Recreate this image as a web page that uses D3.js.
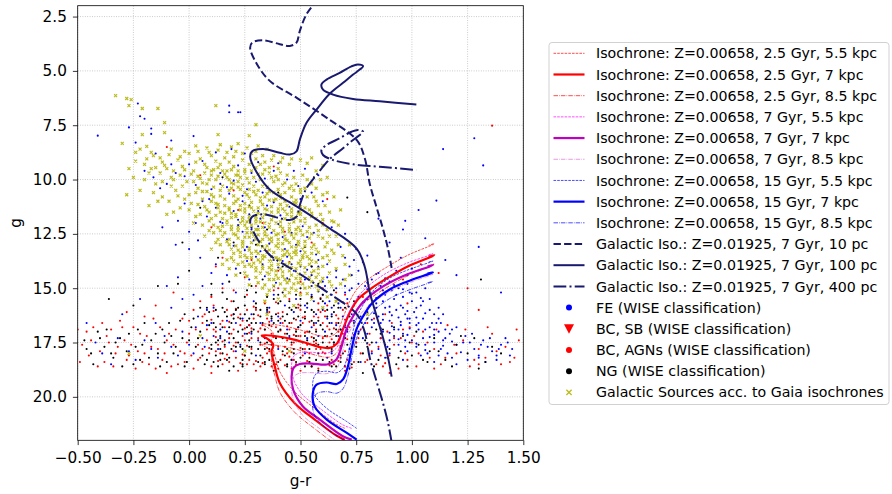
<!DOCTYPE html>
<html lang="en">
<head>
<meta charset="UTF-8">
<title>g vs g-r with isochrones</title>
<script src="https://cdn.jsdelivr.net/npm/d3@7"></script>
<style>
  html, body { margin: 0; padding: 0; background: #fff; }
  svg { display: block; font-family: "DejaVu Sans", sans-serif; }
</style>
</head>
<body>
<div id="chart"></div>
<script>
// ---------- data ----------
const xTicks = [-0.5, -0.25, 0, 0.25, 0.5, 0.75, 1, 1.25, 1.5];
const yTicks = [2.5, 5, 7.5, 10, 12.5, 15, 17.5, 20];

// Z=0.00658 isochrones at 7 kpc, [g-r, g]
const iso25 = [[0.699,21.97],[0.661,21.78],[0.564,21.05],[0.474,20.29],[0.407,19.36],[0.385,18.61],[0.370,17.92],[0.378,17.6],[0.352,17.33],[0.326,17.18],[0.385,17.2],[0.452,17.32],[0.519,17.5],[0.578,17.69],[0.631,17.75],[0.663,17.55],[0.690,16.9],[0.721,16.12],[0.757,15.52],[0.811,15.06],[0.900,14.47],[0.990,13.96],[1.089,13.54],[1.10,13.47],[1.075,13.55]];
const iso7 = [[0.730,21.97],[0.690,21.81],[0.587,21.05],[0.510,20.43],[0.467,19.67],[0.460,19.07],[0.470,18.65],[0.497,18.49],[0.551,18.47],[0.618,18.51],[0.661,18.28],[0.684,17.69],[0.706,16.9],[0.736,16.29],[0.779,15.66],[0.869,14.93],[0.977,14.37],[1.080,14.0],[1.095,13.93],[1.07,14.0]];
const iso15 = [[0.752,21.97],[0.708,21.66],[0.618,21.05],[0.564,20.45],[0.555,19.85],[0.572,19.44],[0.617,19.34],[0.663,19.41],[0.691,19.2],[0.713,18.59],[0.729,17.82],[0.751,16.9],[0.781,16.29],[0.824,15.66],[0.900,15.06],[0.977,14.7],[1.080,14.33],[1.095,14.27],[1.07,14.33]];
// magnitude offset of the 5.5 / 7 / 8.5 kpc versions relative to 7 kpc
const isoShift = [-0.52, 0, 0.42];

// Galactic isochrone Z=0.01925, 7 Gyr at 10 pc, [g-r, g]
const galIso = [[0.909,14.07],[0.892,13.15],[0.869,12.23],[0.842,11.3],[0.811,10.2],[0.788,9.0],[0.752,8.18],[0.618,7.16],[0.483,6.24],[0.362,5.46],[0.304,4.68],[0.274,3.95],[0.283,3.7],[0.332,3.59],[0.407,3.77],[0.452,3.85],[0.482,3.7],[0.497,3.16],[0.527,2.39],[0.572,1.78],[0.631,1.05],[0.691,0.55],[0.736,0.17],[0.766,-0.06],[0.781,-0.21],[0.758,-0.29],[0.729,-0.21],[0.676,0.09],[0.617,0.4],[0.594,0.63],[0.601,0.86],[0.646,1.09],[0.736,1.29],[0.856,1.4],[1.020,1.55]];
// distance moduli for 10 pc, 100 pc, 400 pc
const galDistMod = [0, 5, 8.01];

const legendLabels = [
  "Isochrone: Z=0.00658, 2.5 Gyr, 5.5 kpc",
  "Isochrone: Z=0.00658, 2.5 Gyr, 7 kpc",
  "Isochrone: Z=0.00658, 2.5 Gyr, 8.5 kpc",
  "Isochrone: Z=0.00658, 7 Gyr, 5.5 kpc",
  "Isochrone: Z=0.00658, 7 Gyr, 7 kpc",
  "Isochrone: Z=0.00658, 7 Gyr, 8.5 kpc",
  "Isochrone: Z=0.00658, 15 Gyr, 5.5 kpc",
  "Isochrone: Z=0.00658, 15 Gyr, 7 kpc",
  "Isochrone: Z=0.00658, 15 Gyr, 8.5 kpc",
  "Galactic Iso.: Z=0.01925, 7 Gyr, 10 pc",
  "Galactic Iso.: Z=0.01925, 7 Gyr, 100 pc",
  "Galactic Iso.: Z=0.01925, 7 Gyr, 400 pc",
  "FE (WISE classification)",
  "BC, SB (WISE classification)",
  "BC, AGNs (WISE classification)",
  "NG (WISE classification)",
  "Galactic Sources acc. to Gaia isochrones"
];

// scatter samples, flat [g-r, g, g-r, g, ...]
const fePts = [-0.41,7.98,-0.23,6.5,-0.22,7.09,-0.2,7.2,-0.17,7.65,-0.17,7.9,0.18,6.6,0.22,6.9,0.18,6.9,0.23,6.9,1.14,8.6,1.28,8.1,1.32,9.35,1.11,10.97,1.03,11.4,0.96,12.3,0.9,12.9,0.85,11.8,0.8,13.5,1.3,13.1,1.4,15.2,-0.15,8.8,-0.2,9.6,-0.08,9.3,-0.13,10.4,-0.02,9.85,0.03,10.25,-0.05,11.9,-0.12,12.2,0.06,11.0,0.1,10.45,0.14,9.7,0.22,9.35,0.28,9.7,0.34,9.95,0.4,9.25,0.47,9.6,0.52,9.5,0.58,9.8,0.26,10.45,0.33,10.6,0.18,10.65,0.38,11.05,0.45,11.25,0.2,11.45,0.27,11.6,0.32,11.8,0.14,11.95,0.4,12.05,0.24,12.4,0.46,12.45,0.53,12.65,0.29,12.8,0.36,12.95,0.2,13.05,0.43,13.2,0.5,13.3,0.57,13.45,0.26,13.75,0.33,13.9,0.4,14.05,0.47,14.2,0.55,14.4,0.6,14.7,0.66,14.2,0.7,13.6,0.73,15.0,0.63,15.6,0.55,15.3,0.48,15.5,0.38,15.3,0.29,15.6,0.21,15.2,0.15,14.8,0.1,14.3,0.05,13.6,-0.05,14.5,-0.03,15.5,0.08,16.0,-0.1,14.9,-0.22,15.5,-0.3,16.2,0.0,13.2,
0.82,14.6,0.86,14.9,0.9,14.7,0.94,15.0,0.98,14.8,1.02,15.2,0.88,15.3,0.92,15.5,0.96,15.4,1.0,15.6,1.04,15.8,1.08,15.5,0.84,15.7,0.88,15.9,0.93,16.0,0.97,16.2,1.01,16.1,1.05,16.4,1.1,16.2,0.8,16.1,0.85,16.3,0.9,16.5,0.95,16.7,0.99,16.6,1.03,16.9,1.08,16.8,1.12,17.0,0.82,16.8,0.87,17.0,0.92,17.2,0.96,17.1,1.0,17.4,1.05,17.3,1.1,17.5,1.15,17.3,0.78,17.3,0.84,17.5,0.89,17.7,0.94,17.6,0.98,17.9,1.02,17.7,1.07,18.0,0.76,15.4,0.79,14.9,0.83,15.2,0.91,16.25,0.86,16.6,1.13,16.6,1.18,16.9,1.2,17.6,1.24,17.2,1.28,17.8,1.32,17.4,1.36,17.9,1.4,17.6,1.44,18.1,1.25,18.3,1.33,18.4,1.18,18.2,1.1,18.4,0.96,18.3,0.88,18.2,0.82,18.0,0.74,16.5,0.72,17.8,0.68,16.9,0.65,17.5,0.62,16.4,0.58,17.2,0.55,16.8,0.52,18.0,0.48,17.4,0.44,16.9,0.4,17.8,0.37,16.5,0.34,17.3,0.3,18.1,0.27,16.7,0.23,17.6,0.2,16.2,0.17,17.0,0.13,17.8,0.1,16.6,0.06,17.3,0.02,18.0,-0.03,17.0,-0.08,17.7,-0.14,18.2,-0.2,17.4,-0.27,17.9,-0.35,18.5,-0.42,17.5,-0.46,16.6,0.98,14.4,1.06,15.0,1.12,15.9,0.95,13.6,1.0,14.1,0.64,15.9,0.69,16.3,0.71,15.5,0.66,16.7,0.6,16.0,0.77,18.4,0.7,18.6,0.62,18.2,0.56,18.5,0.46,18.3,
0.91,15.1,0.95,15.8,0.99,16.4,1.03,16.6,0.87,16.2,0.92,16.9,1.06,17.6,1.13,17.8,0.97,17.4,0.81,15.8,1.2,18.5,1.3,18.1,1.38,18.3,0.85,14.3,0.93,14.2,
0.76,14.8,0.8,15.05,0.84,15.45,0.87,15.6,0.9,15.85,0.94,16.35,0.98,16.05,1.02,16.35,1.06,16.15,1.09,16.6,1.12,16.4,1.15,16.9,1.04,15.45,1.0,15.25,0.96,15.05,0.92,14.85,0.88,14.55,0.84,14.35,0.8,14.75,0.78,15.65,0.82,16.45,0.86,16.85,0.9,17.05,0.94,17.35,0.98,17.15,1.02,17.55,1.06,17.85,1.1,17.15,1.14,17.65,1.18,17.45,1.22,17.95,1.26,17.5,1.3,18.2,1.34,17.7,1.38,18.1,1.42,17.3,1.45,17.8,1.16,18.0,1.08,17.25,0.99,16.85,0.95,16.55,0.91,16.75,0.87,16.45,0.83,16.15,0.79,16.6,0.76,17.0,0.73,16.2,0.7,16.8,0.67,17.2,0.64,16.6,0.61,15.7,0.57,16.2,0.53,15.9,0.5,16.5,0.47,16.1,0.43,15.8,0.4,16.3,0.36,15.9,0.32,16.6,0.28,16.2,0.25,17.1,0.21,16.6,0.18,17.5,0.14,16.9,0.11,17.2,0.07,17.7,0.03,16.8,0.0,17.6,-0.05,18.1,-0.11,17.2,-0.17,17.8,-0.24,18.3,-0.32,17.3,-0.39,18.0,0.58,14.0,0.62,14.5,0.66,15.0,0.69,14.6,0.72,14.0,0.75,13.2,0.68,13.1,0.64,12.2,0.7,12.5,0.6,11.0,0.55,10.6,0.49,10.3,0.44,10.0,0.38,9.6,0.31,9.2,0.25,8.8,0.19,8.6,0.12,8.75,0.06,9.15,0.0,9.3,-0.06,9.7,-0.1,10.2,-0.16,9.9,-0.24,8.3,-0.27,7.6,-0.08,8.2,0.02,8.0,0.09,10.9,0.14,10.2,0.2,10.05,0.24,11.0,0.31,11.45,0.35,11.2,0.41,11.65,0.47,11.8,0.51,12.15,0.56,12.45,0.37,12.45,0.31,12.15,0.22,11.85,0.17,12.75,0.25,13.25,0.3,13.55,0.36,13.45,0.42,13.75,0.46,13.9,0.53,14.15,0.44,14.55,0.39,14.75,0.34,14.45,0.27,14.6,0.21,14.1,0.17,14.4,0.12,13.9,0.06,14.9,0.02,15.3,-0.08,15.9,-0.15,16.6,0.0,12.4,-0.06,13.0,0.04,12.8,1.06,12.7,1.15,13.7,1.2,14.4,0.97,11.9,
0.52,14.6,0.55,14.9,0.58,15.15,0.61,14.9,0.64,15.3,0.67,15.7,0.7,15.2,0.73,14.4,0.76,14.2,0.78,13.8,0.74,13.7,0.7,14.9,0.66,14.5,0.62,13.9,0.58,13.7,0.55,14.0,0.52,15.8,0.56,15.6,0.6,15.3,0.64,16.2,0.68,15.9,0.72,15.1,0.77,16.3,0.8,15.5,0.84,15.9,0.87,15.1,0.9,16.1,0.93,15.3,0.96,15.9,0.99,15.2,1.02,15.9,1.05,15.6,1.08,16.0,1.11,16.6,1.14,16.2,1.17,17.1,1.2,16.8,1.23,17.5,1.27,17.1,1.31,17.6,1.35,17.3,1.39,17.8,1.43,17.5,0.86,17.3,0.9,17.4,0.94,16.9,0.98,16.4,1.02,16.7,1.06,16.9,1.1,16.9,1.14,17.4,0.83,16.6,0.8,17.1,0.85,17.8,0.9,18.0,0.97,17.7,1.04,18.1,1.12,18.1,0.75,17.5,0.71,17.0,0.68,17.7,0.64,18.0,0.61,17.0,0.57,16.6,0.53,17.3,0.49,16.8,0.45,17.2,0.41,16.6,0.38,17.2,0.35,16.1,0.31,17.4,0.28,17.1,0.24,16.4,0.21,17.9,0.17,16.5,0.14,17.3,0.11,15.9,0.08,16.7,0.04,16.3,0.15,12.0,0.22,12.1,0.28,12.3,0.34,12.2,0.42,12.65,0.48,13.0,0.26,13.1,0.32,13.3,0.38,13.7,0.44,13.55,0.5,14.0,0.3,10.1,0.35,10.4,0.42,10.85,0.5,10.9,0.24,10.75,0.17,10.35,0.12,11.3,0.08,11.7,-0.02,11.1,0.03,12.0];
const sbPts = [];
const agnPts = [-0.5,16.9,-0.48,17.6,-0.45,18.1,-0.43,16.8,-0.4,17.9,-0.38,18.4,-0.37,17.2,-0.34,18.6,-0.32,17.7,-0.3,16.8,-0.28,18.3,-0.26,17.6,-0.24,18.7,-0.22,17.1,-0.2,18.0,-0.18,18.5,-0.16,16.4,-0.14,17.8,-0.12,18.3,-0.1,17.4,-0.08,18.6,-0.06,16.9,-0.04,17.9,-0.02,18.4,0.0,17.1,0.0,16.5,0.02,18.7,0.04,17.6,
0.05,18.2,0.07,16.2,0.08,17.4,0.1,18.6,0.11,15.8,0.12,17.0,0.14,18.0,0.15,16.5,0.16,17.7,0.18,18.4,0.19,15.6,0.2,16.9,0.21,17.5,0.22,18.8,0.23,16.2,0.24,17.2,0.25,18.1,0.26,15.3,0.27,16.7,0.28,17.8,0.29,18.5,0.3,16.0,0.31,17.0,0.32,17.6,0.33,18.2,0.34,15.7,0.35,16.4,0.36,17.4,0.37,18.6,0.38,15.1,0.39,16.8,0.4,17.7,0.41,18.3,0.42,16.1,0.43,17.1,0.44,18.0,0.45,15.5,0.46,16.6,0.47,17.5,0.48,18.5,0.49,15.9,0.5,17.2,0.51,18.1,0.52,16.3,0.53,17.0,0.54,18.4,0.55,15.4,0.56,16.7,0.57,17.8,0.58,18.7,0.59,16.1,0.6,17.3,0.61,18.0,0.62,15.8,0.63,16.9,0.64,18.3,0.65,17.6,0.66,15.2,0.67,16.4,0.68,18.1,0.69,17.1,0.7,18.6,0.71,15.7,0.72,16.8,0.73,17.7,0.74,18.4,0.75,16.1,0.76,17.3,0.77,18.0,0.78,15.4,
0.8,16.6,0.82,17.9,0.84,18.5,0.86,17.3,0.88,16.2,0.9,18.1,0.92,17.6,0.94,18.7,0.96,16.9,0.98,18.3,1.0,17.5,1.02,18.6,1.05,17.0,1.08,18.2,1.1,17.8,1.13,18.5,1.16,16.7,1.2,18.0,1.23,17.4,1.26,18.6,1.3,17.8,1.33,18.2,1.36,17.1,1.4,18.5,1.42,17.7,1.48,17.4,
1.36,7.52,0.89,14.8,0.96,14.6,1.04,13.9,1.12,14.3,1.25,15.0,1.3,16.0,0.98,15.7,0.1,12.2,0.22,11.4,0.15,13.6,-0.15,15.8,-0.28,16.1,-0.35,16.9,0.35,13.3,0.5,14.7,0.43,12.4,0.6,12.0,
0.12,17.9,0.2,17.9,0.28,17.3,0.36,17.9,0.44,17.4,0.52,17.8,0.6,16.6,0.32,18.6,0.4,18.7,0.48,16.9,0.56,16.3,0.24,16.5,0.18,17.3,0.08,16.9,-0.02,18.0,0.06,17.8,0.26,18.5,0.34,16.9,0.42,16.6,0.5,16.0,0.58,15.7,0.46,18.7,0.54,18.0,0.62,17.2,0.7,17.9,
0.02,16.0,0.04,18.3,0.06,16.6,0.09,18.0,0.11,16.9,0.13,17.6,0.15,18.5,0.17,16.0,0.19,17.1,0.21,18.2,0.23,16.7,0.25,17.4,0.27,18.3,0.29,16.4,0.31,17.3,0.33,16.7,0.35,18.0,0.37,17.1,0.39,18.5,0.41,16.4,0.43,17.7,0.45,16.9,0.47,18.3,0.49,17.2,0.51,16.6,0.53,17.6,0.55,18.6,0.57,16.9,0.59,17.8,0.61,16.3,0.63,17.5,0.65,18.5,0.67,17.0,0.69,16.0,0.71,18.3,0.73,16.5,0.75,17.5,0.77,16.9,0.79,18.4,0.81,17.1,0.83,16.4,0.85,17.7,0.87,18.6,0.89,17.0,0.91,16.6,0.95,17.3,0.99,16.8,1.03,18.0,1.07,17.5,1.11,16.9,1.15,18.2,1.19,17.6,1.24,16.9,1.28,18.3,1.34,16.8,1.38,17.9,1.44,18.4,1.47,16.9,-0.49,18.4,-0.46,17.0,-0.44,17.4,-0.41,18.6,-0.39,16.6,-0.36,17.5,-0.33,18.0,-0.31,16.5,-0.29,17.4,-0.27,18.1,-0.25,16.8,-0.23,17.9,-0.21,18.4,-0.19,17.2,-0.17,17.7,-0.15,18.7,-0.13,16.8,-0.11,18.0,-0.09,17.1,-0.07,17.6,-0.05,18.5,-0.03,16.4,-0.01,17.5,0.01,18.1,0.03,16.9,0.1,15.4,0.2,15.1,0.3,14.9,0.4,15.0,0.5,15.2,0.6,15.0,0.7,15.3,0.25,14.5,0.15,15.0,0.05,15.6,-0.07,15.2,-0.2,16.3,0.45,13.8,0.55,12.9,0.33,12.0,0.2,10.5,0.05,9.8,-0.1,8.5,0.38,9.4,0.62,10.9,0.4,14.2,0.28,13.7,0.12,14.0,0.58,16.0,0.66,16.6,0.74,15.8,0.46,17.6,0.36,16.1,0.26,16.0,0.16,16.8,0.06,16.3,0.5,18.8,0.3,18.8,0.1,18.9,-0.1,18.9,0.7,18.8,0.9,18.9,1.1,18.7,1.3,18.5,1.46,18.2,
0.1,16.45,0.12,17.25,0.14,16.65,0.16,18.25,0.18,16.55,0.2,17.65,0.22,16.35,0.24,18.05,0.26,17.65,0.28,16.85,0.3,18.35,0.32,16.85,0.34,17.55,0.36,16.55,0.38,17.25,0.4,16.15,0.42,18.05,0.44,16.75,0.46,17.95,0.48,16.45,0.5,17.75,0.52,17.05,0.54,16.55,0.56,17.45,0.58,16.35,0.6,17.95,0.62,16.75,0.64,17.35,0.66,16.25,0.68,17.65,0.7,16.45,0.72,18.05,0.74,17.15,0.76,16.65,0.15,17.45,0.25,16.85,0.35,17.75,0.45,18.15,0.55,17.25,0.65,16.85,0.13,18.35,0.23,18.45,0.33,18.45,0.43,18.55,0.53,18.35,0.63,18.55,0.73,18.65,0.19,16.25,0.29,15.85,0.39,15.65,0.49,15.75,0.59,15.45,0.69,15.65,0.09,17.75,0.17,18.05,0.27,17.05,0.37,16.75,0.47,17.15,0.57,17.55,0.67,18.35,0.11,16.05,0.21,15.95,0.31,16.25,0.41,16.95,0.51,16.35,0.61,16.05,0.71,17.35,0.78,16.8,0.81,17.6,0.86,18.1,0.92,17.3,0.97,18.0,0.8,18.3,0.88,18.45,1.01,17.2];
const ngPts = [-0.47,17.4,-0.44,18.0,-0.41,17.0,-0.38,17.7,-0.36,15.5,-0.34,18.2,-0.31,17.3,-0.28,17.9,-0.25,18.5,-0.23,16.9,-0.21,17.6,-0.18,18.2,-0.15,17.1,-0.13,18.6,-0.11,17.5,-0.09,16.6,-0.07,18.0,-0.05,14.8,-0.03,17.3,-0.01,18.4,0.01,16.8,0.03,17.7,
0.05,17.0,0.06,18.1,0.08,15.9,0.09,16.7,0.1,17.6,0.11,18.4,0.13,16.3,0.14,17.2,0.15,18.0,0.17,15.5,0.18,16.8,0.19,17.8,0.2,18.6,0.21,16.0,0.22,17.0,0.23,17.7,0.24,18.3,0.25,15.8,0.26,16.5,0.27,17.4,0.28,18.0,0.29,16.9,0.3,15.2,0.31,17.8,0.32,16.3,0.33,17.2,0.34,18.4,0.35,15.9,0.36,16.7,0.37,17.6,0.38,18.1,0.39,16.2,0.4,17.0,0.41,15.6,0.42,17.9,0.43,16.5,0.44,18.5,0.45,17.3,0.46,16.0,0.47,17.8,0.48,15.3,0.49,16.8,0.5,18.2,0.51,17.5,0.52,16.4,0.53,15.7,0.54,17.0,0.55,18.6,0.56,16.1,0.57,17.4,0.58,18.0,0.59,15.5,0.6,16.9,0.62,17.7,0.63,18.4,0.64,16.3,0.66,17.2,0.67,15.9,0.68,18.2,0.7,16.7,0.71,17.6,0.73,18.5,0.74,15.6,0.76,17.1,0.78,18.0,0.8,16.4,0.82,17.5,0.85,18.3,0.87,16.9,0.9,17.8,0.93,18.5,0.96,17.2,1.0,18.1,1.03,17.6,1.07,18.4,1.12,17.9,1.18,18.6,1.25,18.0,1.3,18.7,1.22,17.2,1.36,17.7,
0.05,11.3,0.2,12.9,0.35,12.3,0.55,14.0,0.3,13.0,-0.03,12.9,0.1,14.8,0.45,14.6,0.65,15.1,0.71,10.83,0.8,11.5,1.31,14.6,
0.12,17.5,0.2,17.3,0.28,16.6,0.36,18.3,0.44,17.1,0.52,18.6,0.6,17.5,0.16,16.1,0.24,16.9,0.32,17.5,0.4,18.4,0.48,17.0,0.56,16.6,0.64,17.8,0.72,16.3,0.08,18.3,-0.02,16.2,0.18,14.7,0.26,15.1,0.38,14.9,0.5,15.0,0.58,14.8,
0.02,16.4,0.04,17.3,0.07,18.5,0.09,16.1,0.12,16.8,0.13,18.6,0.16,17.4,0.18,18.2,0.2,16.4,0.22,17.5,0.24,18.6,0.26,17.1,0.28,17.7,0.3,16.6,0.32,18.1,0.34,16.9,0.36,17.4,0.38,18.5,0.4,16.5,0.42,17.3,0.44,16.2,0.46,17.5,0.48,18.4,0.5,16.7,0.52,17.2,0.54,18.2,0.56,17.6,0.58,16.5,0.6,18.3,0.62,16.0,0.64,17.1,0.66,18.6,0.68,16.9,0.7,17.3,0.72,18.1,0.74,16.6,0.76,18.4,0.78,16.8,0.8,17.7,0.83,18.6,0.86,17.1,0.89,18.2,0.92,16.8,0.95,17.9,0.98,18.6,1.02,17.0,1.05,18.3,1.1,17.3,1.15,18.3,1.2,17.6,1.28,17.3,1.33,18.4,1.4,18.0,-0.46,17.8,-0.43,18.5,-0.4,17.3,-0.37,16.9,-0.35,18.0,-0.33,17.5,-0.3,18.6,-0.27,17.1,-0.24,17.7,-0.22,18.3,-0.2,16.6,-0.17,17.4,-0.14,18.0,-0.12,16.9,-0.1,18.4,-0.08,17.2,-0.06,17.7,-0.04,16.5,-0.02,18.6,0.0,17.4,0.1,15.3,0.2,15.6,0.3,15.7,0.4,15.3,0.5,15.5,0.6,15.3,0.15,15.9,0.25,16.2,0.35,16.0,0.45,15.9,0.55,16.0,0.65,16.1,0.33,14.6,0.23,14.3,0.42,14.0,0.13,13.6,0.0,14.2,-0.14,14.9,-0.25,15.8,0.52,13.1,0.27,11.2,0.4,10.6,0.15,9.9,0.56,9.9,0.08,16.5,0.18,18.8,0.38,18.8,0.58,18.8,0.78,18.9,0.44,17.8,0.34,17.8,0.24,17.8,0.14,17.8,0.54,17.8,0.64,17.9,0.12,18.1,0.57,17.0,0.47,16.4,0.37,16.4,0.27,16.4,0.17,16.3,
0.11,16.6,0.13,17.4,0.15,16.8,0.17,18.3,0.19,16.6,0.21,17.7,0.23,16.4,0.25,18.1,0.27,17.7,0.29,16.2,0.31,18.4,0.33,16.6,0.35,17.5,0.37,16.3,0.39,17.3,0.41,16.9,0.43,18.1,0.45,16.6,0.47,18.0,0.49,16.3,0.51,17.8,0.53,17.4,0.55,16.5,0.57,18.3,0.59,16.7,0.61,17.2,0.63,16.6,0.65,17.5,0.67,16.6,0.69,18.0,0.71,16.9,0.73,17.3,0.75,17.7,0.16,17.6,0.26,16.8,0.36,17.8,0.46,18.3,0.56,17.3,0.66,16.9,0.14,18.3,0.24,18.5,0.34,18.5,0.44,18.6,0.54,18.4,0.64,18.6,0.72,18.7,0.2,16.2,0.3,15.9,0.4,15.7,0.5,15.8,0.6,15.6,0.7,15.9,0.1,17.8,0.18,17.1,0.28,17.0,0.38,16.6,0.48,17.2,0.58,17.6,0.68,18.4,0.12,16.0,0.22,15.9,0.32,16.0,0.42,16.3,0.52,16.1,0.62,16.3,0.42,15.2,0.35,15.4,0.25,15.4,0.45,15.6,0.55,15.4,0.28,14.9,0.38,15.5,0.48,15.9,0.15,15.2,0.05,15.9,0.65,15.8,0.79,17.4,0.84,16.9,0.88,17.6,0.94,18.2,0.99,17.5,1.08,17.9];
const galPts = [-0.33,6.14,-0.28,6.27,-0.26,6.32,-0.27,6.6,-0.21,6.73,-0.14,6.73,-0.11,7.38,-0.11,7.84,-0.21,7.93,-0.3,8.34,0.12,6.6,0.3,7.48,0.27,7.98,0.13,7.93,-0.19,8.47,-0.24,8.75,-0.16,8.9,-0.08,8.6,-0.02,8.7,0.03,8.45,0.08,8.55,0.14,8.4,0.19,8.5,0.22,8.35,0.26,8.55,0.31,8.45,0.35,8.6,0.28,8.8,0.1,8.9,0.05,9.05,-0.05,9.1,-0.12,9.2,-0.2,9.3,-0.27,9.5,-0.25,9.9,-0.18,9.7,-0.1,9.5,-0.03,9.4,0.02,9.6,0.07,9.3,0.12,9.15,0.16,9.0,0.2,8.95,0.24,9.1,0.3,9.05,0.34,9.2,0.38,8.9,0.42,9.0,0.45,9.3,0.5,9.1,0.55,9.0,0.6,9.35,0.4,9.5,0.36,9.7,0.3,9.45,0.25,9.55,0.2,9.4,0.15,9.6,0.1,9.8,0.05,9.95,-0.01,10.1,-0.07,10.0,-0.15,10.2,-0.22,10.5,-0.28,10.7,-0.18,11.2,-0.12,10.8,-0.06,10.5,0.0,10.7,0.04,10.4,0.08,10.2,0.12,10.0,0.17,9.9,0.21,9.8,0.26,9.95,0.32,10.0,0.38,10.1,0.44,9.8,0.48,10.2,0.53,10.0,0.57,10.4,0.62,10.6,0.5,10.6,0.45,10.4,0.4,10.45,0.35,10.35,0.29,10.3,0.24,10.25,0.19,10.4,0.14,10.5,0.1,10.7,0.06,10.9,0.01,11.1,-0.04,11.3,-0.1,11.6,0.03,11.7,0.08,11.4,0.12,11.1,0.16,10.9,0.2,10.75,0.25,10.6,0.3,10.7,0.34,10.8,0.39,10.9,0.43,11.0,0.48,11.1,0.52,11.3,0.58,11.2,0.63,11.5,0.55,11.7,0.5,11.6,0.46,11.5,0.42,11.35,0.37,11.25,0.33,11.15,0.28,11.05,0.23,11.2,0.18,11.3,0.14,11.5,0.1,11.8,0.06,12.1,0.13,12.2,0.17,11.9,0.21,11.7,0.25,11.5,0.29,11.45,0.34,11.6,0.38,11.7,0.43,11.8,0.47,11.95,0.52,12.0,0.57,12.1,0.62,12.3,0.66,12.6,0.6,12.7,0.55,12.5,0.5,12.35,0.45,12.25,0.41,12.15,0.36,12.05,0.32,11.95,0.27,11.85,0.23,12.0,0.19,12.3,0.15,12.6,0.12,12.9,0.18,13.0,0.22,12.7,0.26,12.45,0.3,12.3,0.34,12.4,0.39,12.55,0.43,12.6,0.47,12.7,0.52,12.85,0.56,13.0,0.61,13.1,0.65,13.4,0.6,13.6,0.55,13.4,0.51,13.2,0.46,13.1,0.42,12.95,0.37,12.85,0.33,12.75,0.28,12.9,0.24,13.1,0.2,13.4,0.17,13.7,0.22,13.9,0.26,13.6,0.3,13.3,0.34,13.2,0.38,13.35,0.42,13.5,0.46,13.6,0.5,13.75,0.54,13.9,0.58,14.1,0.63,14.3,0.57,14.5,0.52,14.3,0.48,14.1,0.44,14.0,0.4,13.9,0.36,13.75,0.32,13.8,0.28,14.0,0.25,14.3,0.3,14.5,0.35,14.3,0.39,14.4,0.43,14.6,0.47,14.8,0.52,15.0,0.57,14.9,0.45,15.2,0.38,14.9,0.33,15.0,0.4,15.5,0.62,15.4,0.68,14.8,0.7,13.9,0.67,13.0,0.72,14.4,0.35,16.2,0.25,17.9,0.05,17.2,-0.27,18.0,0.45,17.9,0.8,16.2,
0.22,10.1,0.27,10.15,0.31,10.5,0.36,10.55,0.41,10.7,0.46,10.8,0.27,10.85,0.21,11.0,0.25,11.35,0.31,11.3,0.35,11.4,0.4,11.5,0.44,11.6,0.48,11.75,0.3,11.7,0.24,11.75,0.28,12.1,0.33,12.2,0.38,12.35,0.42,12.4,0.48,12.5,0.26,12.25,0.31,12.55,0.35,12.6,0.4,12.75,0.45,12.9,0.49,13.0,0.27,12.65,0.31,13.0,0.35,13.05,0.4,13.15,0.44,13.3,0.48,13.45,0.53,13.55,0.28,13.4,0.33,13.5,0.37,13.55,0.41,13.7,0.45,13.85,0.5,13.95,0.56,14.2,0.33,14.1,0.37,14.15,0.42,14.25,0.46,14.4,0.5,14.55,0.36,14.6,0.41,14.8,0.46,15.0,0.31,14.75,0.17,12.05,0.2,12.5,0.14,12.35,0.19,13.2,0.23,13.35,0.16,11.2,0.19,11.55,0.12,11.65,0.09,12.35,0.24,12.85,0.5,11.9,0.54,12.2,0.58,12.6,0.62,12.9,0.58,13.35,0.63,13.75,0.54,11.4,0.6,11.85,0.65,11.95,
-0.22,8.6,-0.17,8.75,-0.13,9.0,-0.09,8.85,-0.04,8.95,0.0,8.8,0.04,8.7,0.09,8.75,0.13,8.65,0.17,8.75,0.21,8.7,0.24,8.8,0.3,8.7,0.33,8.9,0.37,9.1,0.41,9.2,0.46,9.05,0.53,9.25,0.57,9.6,0.62,9.9,-0.24,9.15,-0.19,9.05,-0.15,9.45,-0.11,9.35,-0.07,9.6,-0.02,9.55,0.03,9.2,0.08,9.45,0.11,9.55,0.14,9.3,0.18,9.2,0.22,9.6,0.27,9.3,0.32,9.3,0.36,9.45,0.41,9.7,0.47,9.9,0.51,9.8,0.55,10.2,0.59,10.0,-0.2,10.0,-0.16,10.6,-0.12,10.1,-0.08,10.3,-0.03,10.3,0.02,10.1,0.06,10.15,0.09,10.0,0.13,9.85,0.17,9.6,0.19,10.15,0.23,9.9,0.29,9.9,0.33,9.75,0.39,9.85,0.42,10.25,0.47,10.5,0.52,10.4,0.56,10.8,0.6,10.7,-0.14,11.0,-0.09,11.0,-0.05,10.75,-0.02,10.9,0.03,10.6,0.06,10.55,0.11,10.35,0.14,10.75,0.18,10.5,0.22,10.35,0.27,10.45,0.33,10.3,0.38,10.6,0.43,10.6,0.48,10.95,0.53,10.8,0.57,11.0,0.61,11.2,-0.07,11.5,0.0,11.4,0.04,11.15,0.07,11.25,0.1,11.0,0.13,11.3,0.16,11.55,0.2,11.1,0.23,11.4,0.27,11.25,0.32,11.0,0.36,10.95,0.41,11.15,0.46,11.35,0.5,11.45,0.55,11.55,0.59,11.6,0.64,11.9,0.02,12.0,0.05,11.6,0.09,11.9,0.11,12.45,0.15,12.15,0.19,11.75,0.22,12.2,0.26,11.95,0.3,12.0,0.34,12.0,0.37,11.85,0.41,11.95,0.45,12.05,0.49,12.2,0.53,12.4,0.58,12.35,0.63,12.6,0.1,13.2,0.14,13.0,0.17,12.85,0.21,12.55,0.25,12.65,0.29,12.6,0.32,12.85,0.36,12.75,0.4,12.95,0.44,12.8,0.48,13.15,0.52,13.35,0.57,13.2,0.62,13.5,0.15,13.9,0.19,13.6,0.23,13.55,0.27,13.25,0.31,13.4,0.35,13.35,0.39,13.6,0.43,13.45,0.47,13.35,0.51,13.6,0.55,13.75,0.6,14.0,0.66,14.1,0.21,14.4,0.25,14.0,0.29,13.85,0.33,13.65,0.37,13.95,0.41,14.1,0.45,14.2,0.49,14.35,0.54,14.5,0.59,14.7,0.64,14.9,0.27,14.85,0.32,14.3,0.36,14.05,0.4,14.55,0.44,14.75,0.49,14.75,0.54,14.95,0.43,15.35,0.5,15.3,0.36,15.1,0.55,15.5,0.34,15.6,0.47,15.8,0.6,15.9,0.66,15.6,0.7,14.6,0.69,13.5,0.72,13.0,0.67,12.1,0.65,10.8,0.68,11.4,
0.2,10.2,0.23,10.45,0.26,10.7,0.29,10.55,0.32,10.85,0.35,10.65,0.38,10.95,0.41,10.85,0.44,11.2,0.47,11.05,0.5,11.25,0.22,10.9,0.25,11.1,0.28,11.3,0.31,11.55,0.34,11.35,0.37,11.5,0.4,11.35,0.43,11.45,0.46,11.7,0.49,11.55,0.52,11.8,0.18,11.4,0.21,11.6,0.24,11.9,0.27,11.7,0.3,11.85,0.33,11.75,0.36,12.2,0.39,12.0,0.42,12.25,0.45,12.4,0.48,12.3,0.51,12.55,0.54,12.7,0.16,12.45,0.19,12.15,0.22,12.35,0.25,12.1,0.28,12.45,0.31,12.3,0.34,12.55,0.37,12.7,0.4,12.5,0.43,12.75,0.46,12.55,0.49,12.85,0.52,13.05,0.55,13.15,0.18,12.75,0.21,13.05,0.24,12.95,0.27,13.15,0.3,12.75,0.33,13.1,0.36,13.25,0.39,13.05,0.42,13.25,0.45,13.45,0.48,13.3,0.51,13.5,0.54,13.65,0.57,13.8,0.22,13.25,0.25,13.5,0.28,13.6,0.31,13.7,0.34,13.55,0.37,13.75,0.4,13.65,0.43,13.9,0.46,14.05,0.49,13.85,0.52,14.05,0.55,14.3,0.58,14.35,0.24,13.8,0.27,13.9,0.3,14.05,0.33,14.0,0.36,14.35,0.39,14.2,0.42,14.45,0.45,14.65,0.48,14.55,0.51,14.8,0.55,14.7,0.6,14.55,0.3,14.2,0.34,14.85,0.38,14.6,0.43,15.05,0.48,15.1,0.1,9.6,0.13,9.45,0.16,9.75,0.19,9.55,0.22,9.8,0.25,9.7,0.28,9.6,0.31,9.75,0.34,9.55,0.37,9.9,0.4,10.0,0.43,10.15,0.46,10.3,0.5,10.45,0.07,9.7,0.04,9.85,0.01,9.75,-0.04,9.8,-0.08,9.9,-0.13,9.7,-0.17,9.5,0.08,10.55,0.11,10.8,0.15,10.3,0.18,10.0,0.13,11.15,0.09,11.5,0.15,11.8,0.11,12.1,0.07,12.6,0.13,12.75,0.15,13.35,0.2,13.75,0.18,14.1,0.26,14.45,0.35,15.3,0.53,15.25,0.58,15.1,0.63,14.7,0.64,13.25,0.6,12.1,0.57,11.8];

// ---------- chart ----------
const W = 892, H = 494;
const plot = {left: 77.7, right: 523.3, top: 5.7, bottom: 440.3};

const x = d3.scaleLinear().domain([-0.5, 1.5]).range([plot.left, plot.right]);
const y = d3.scaleLinear().domain([2, 22]).range([plot.top, plot.bottom]);

const svg = d3.select("#chart").append("svg")
  .attr("width", W).attr("height", H);

svg.append("defs").append("clipPath").attr("id", "plotClip")
  .append("rect")
  .attr("x", plot.left).attr("y", plot.top)
  .attr("width", plot.right - plot.left).attr("height", plot.bottom - plot.top);

// grid
const grid = svg.append("g").attr("stroke", "#b0b0b0").attr("stroke-width", 0.8)
  .attr("stroke-dasharray", "0.8,1.6");
grid.selectAll(".gx").data(xTicks).join("line")
  .attr("x1", d => x(d)).attr("x2", d => x(d))
  .attr("y1", plot.top).attr("y2", plot.bottom);
grid.selectAll(".gy").data(yTicks).join("line")
  .attr("y1", d => y(d)).attr("y2", d => y(d))
  .attr("x1", plot.left).attr("x2", plot.right);

// scatter
const pairs = a => d3.range(0, a.length, 2).map(i => [a[i], a[i + 1]]);
const body = svg.append("g").attr("clip-path", "url(#plotClip)");

function dots(data, color, r) {
  body.append("g").attr("fill", color)
    .selectAll("circle").data(pairs(data)).join("circle")
    .attr("cx", d => x(d[0])).attr("cy", d => y(d[1])).attr("r", r);
}
dots(fePts, "#0000ff", 1.05);
dots(agnPts, "#ff0000", 1.05);
dots(ngPts, "#000000", 1.05);

const crossPath = s => `M${-s},${-s}L${s},${s}M${-s},${s}L${s},${-s}`;
body.append("g").attr("stroke", "#bcbc1c").attr("stroke-width", 1.15)
  .selectAll("path").data(pairs(galPts)).join("path")
  .attr("transform", d => `translate(${x(d[0])},${y(d[1])})`)
  .attr("d", crossPath(1.5));

// isochrone lines
const line = d3.line().x(d => x(d[0])).y(d => y(d[1])).curve(d3.curveCatmullRom.alpha(0.5));
const styles = [
  {dash: "2.6,1.1", w: 0.7},
  {dash: null, w: 2.2},
  {dash: "4.5,1.1,0.7,1.1", w: 0.7}
];
const isoSets = [
  {pts: iso25, colors: ["#ff0000", "#ff0000", "#ff0000"]},
  {pts: iso7, colors: ["#ff00ff", "#bf00bf", "#da70d6"]},
  {pts: iso15, colors: ["#0000ff", "#0000ff", "#0000ff"]}
];
const legendLines = [];
isoSets.forEach(set => {
  isoShift.forEach((dm, k) => {
    const st = styles[k];
    body.append("path")
      .attr("d", line(set.pts.map(p => [p[0], p[1] + dm])))
      .attr("fill", "none").attr("stroke", set.colors[k])
      .attr("stroke-width", st.w).attr("stroke-dasharray", st.dash)
      .attr("stroke-linejoin", "round");
    legendLines.push({color: set.colors[k], w: st.w, dash: st.dash});
  });
});

const galStyles = ["7.4,3.2", null, "12.8,3.2,2,3.2"];
galDistMod.forEach((dm, k) => {
  body.append("path")
    .attr("d", line(galIso.map(p => [p[0], p[1] + dm])))
    .attr("fill", "none").attr("stroke", "#191970")
    .attr("stroke-width", 2).attr("stroke-dasharray", galStyles[k]);
  legendLines.push({color: "#191970", w: 2, dash: galStyles[k]});
});

// frame + axes
svg.append("rect")
  .attr("x", plot.left).attr("y", plot.top)
  .attr("width", plot.right - plot.left).attr("height", plot.bottom - plot.top)
  .attr("fill", "none").attr("stroke", "#000").attr("stroke-width", 0.8);

const fmtX = d3.format(".2f"), fmtY = d3.format(".1f");
const xAxis = svg.append("g").attr("transform", `translate(0,${plot.bottom})`)
  .call(d3.axisBottom(x).tickValues(xTicks).tickFormat(fmtX).tickSize(4.8).tickPadding(7));
const yAxis = svg.append("g").attr("transform", `translate(${plot.left},0)`)
  .call(d3.axisLeft(y).tickValues(yTicks).tickFormat(fmtY).tickSize(4.8).tickPadding(6));
[xAxis, yAxis].forEach(a => {
  a.select(".domain").remove();
  a.selectAll("text").attr("font-size", 15.3).attr("font-family", "DejaVu Sans").attr("fill", "#000");
  a.selectAll("line").attr("stroke", "#000").attr("stroke-width", 0.8);
});

svg.append("text").attr("x", (plot.left + plot.right) / 2).attr("y", 486)
  .attr("text-anchor", "middle").attr("font-size", 15.3).text("g-r");
svg.append("text").attr("transform", `translate(21,${(plot.top + plot.bottom) / 2}) rotate(-90)`)
  .attr("text-anchor", "middle").attr("font-size", 15.3).text("g");

// legend
const lg = svg.append("g");
lg.append("rect").attr("x", 549).attr("y", 42.5).attr("width", 340).attr("height", 362)
  .attr("rx", 3).attr("fill", "#fff").attr("fill-opacity", 0.8)
  .attr("stroke", "#cccccc").attr("stroke-width", 0.9);

const rowY = i => 53.3 + i * 21.19;
legendLabels.forEach((lab, i) => {
  lg.append("text").attr("x", 596).attr("y", rowY(i)).attr("dy", "0.36em")
    .attr("font-size", 14.2).text(lab);
});
legendLines.forEach((s, i) => {
  lg.append("line").attr("x1", 553.5).attr("x2", 584.5).attr("y1", rowY(i)).attr("y2", rowY(i))
    .attr("stroke", s.color).attr("stroke-width", s.w).attr("stroke-dasharray", s.dash);
});
const mx = 569;
lg.append("circle").attr("cx", mx).attr("cy", rowY(12)).attr("r", 3).attr("fill", "#0000ff");
lg.append("path").attr("transform", `translate(${mx},${rowY(13)})`)
  .attr("d", "M-5,-4.5L5,-4.5L0,5Z").attr("fill", "#ff0000");
lg.append("circle").attr("cx", mx).attr("cy", rowY(14)).attr("r", 3).attr("fill", "#ff0000");
lg.append("circle").attr("cx", mx).attr("cy", rowY(15)).attr("r", 3).attr("fill", "#000000");
lg.append("path").attr("transform", `translate(${mx},${rowY(16)})`)
  .attr("d", crossPath(2.6)).attr("stroke", "#bcbc1c").attr("stroke-width", 1.3);
</script>
</body>
</html>
